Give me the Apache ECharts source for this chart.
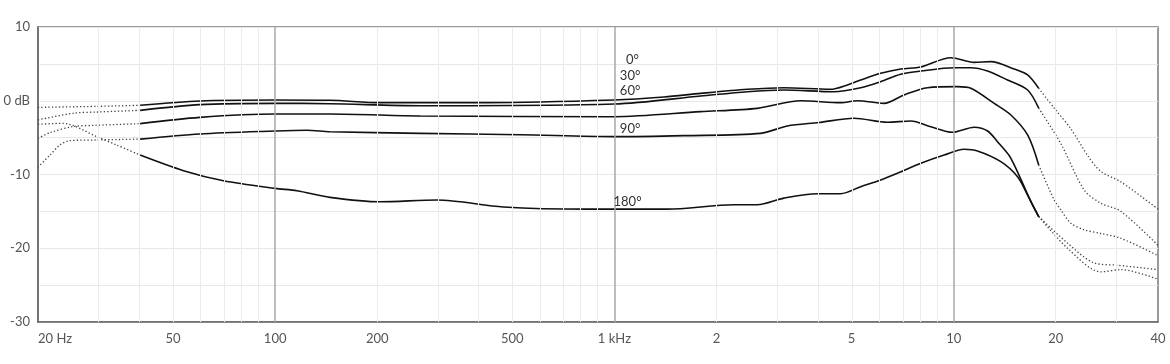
<!DOCTYPE html>
<html>
<head>
<meta charset="utf-8">
<script src="https://cdn.jsdelivr.net/npm/echarts@6/dist/echarts.min.js"></script>
<style>
  html, body { margin: 0; padding: 0; background: #fff; }
  #chart { width: 1170px; height: 364px; }
</style>
</head>
<body>
<div id="chart"></div>
<script>
// polar response: level (dB) over frequency (Hz), one pair of arrays per angle
const hz0 = [20, 30, 40, 60, 100, 145, 204, 421, 1000, 1400, 1795, 2465, 3159, 4339, 4860, 5318, 6092, 6978, 8000, 9800, 11485, 12870, 15070, 16510, 17800, 19770, 22140, 24800, 27160, 31100, 40000]
const db0 = [-0.9, -0.76, -0.62, -0.03, 0.1, 0.06, -0.26, -0.26, 0.1, 0.5, 1.0, 1.55, 1.77, 1.55, 2.14, 2.81, 3.72, 4.3, 4.58, 5.84, 5.2, 5.3, 4.3, 3.5, 1.69, -1.0, -3.8, -7.4, -9.6, -11.0, -14.7]

const hz30 = [20, 25.4, 29.8, 40, 60, 100, 145, 268, 1000, 1795, 2465, 3159, 4428, 5318, 6092, 6978, 8000, 10024, 11230, 12580, 14405, 16510, 17800, 20680, 24240, 27160, 31100, 40000]
const db30 = [-2.6, -1.7, -1.53, -1.3, -0.53, -0.35, -0.4, -0.67, -0.44, 0.64, 1.23, 1.46, 1.23, 1.77, 2.59, 3.59, 4.03, 4.48, 4.48, 4.03, 2.81, 1.46, -1.0, -5.8, -12.1, -13.9, -15.0, -19.6]

const hz60 = [20, 21.7, 25.4, 29.8, 40, 60, 100, 145, 268, 1000, 1795, 2637, 3538, 4643, 5200, 6230, 7136, 8366, 10257, 11230, 13160, 14740, 16510, 17800, 19770, 20680, 22140, 24240, 27160, 31100, 40000]
const db60 = [-5.1, -4.33, -3.5, -3.33, -3.1, -2.25, -1.8, -1.8, -2.07, -2.16, -1.48, -1.03, 0, -0.26, 0, -0.35, 0.78, 1.77, 1.91, 1.69, -0.35, -1.93, -4.64, -8.7, -13.46, -14.8, -16.6, -17.5, -18.0, -18.65, -21.0]

const hz90 = [20, 21.7, 23.2, 24.8, 29.8, 40, 60, 100, 124, 145, 268, 528, 1000, 1602, 2697, 3232, 4000, 5083, 6374, 7471, 8557, 9916, 11485, 12580, 13600, 14740, 16890, 17800, 21650, 25950, 30410, 40000]
const db90 = [-9.0, -7.36, -6.0, -5.41, -5.32, -5.2, -4.5, -4.1, -4.0, -4.2, -4.42, -4.6, -4.87, -4.73, -4.42, -3.42, -2.95, -2.38, -2.92, -2.75, -3.52, -4.28, -3.6, -4.1, -5.8, -7.8, -13.7, -15.7, -19.3, -22.0, -22.3, -22.9]

const hz180 = [20, 23.7, 29.8, 34.1, 40, 53.7, 70.4, 100, 116, 145, 204, 300, 471, 831, 1000, 1431, 2249, 2637, 3159, 3963, 4643, 5318, 6092, 6822, 8000, 9367, 10729, 11750, 13770, 15420, 16510, 17800, 21650, 27160, 31100, 40000]
const db180 = [-3.2, -3.06, -4.87, -6.0, -7.36, -9.48, -10.84, -11.88, -12.2, -13.1, -13.7, -13.46, -14.4, -14.7, -14.7, -14.7, -14.1, -14.1, -13.2, -12.6, -12.6, -11.65, -10.75, -9.84, -8.48, -7.36, -6.58, -6.8, -8.26, -10.3, -12.78, -15.7, -20.0, -23.2, -22.9, -24.2]

// measured (solid) range, outside of it the curves are dotted
const solidFrom = 40
const solidTo = 17800

// axis ticks
const xTickHz = [20, 50, 100, 200, 500, 1000, 2000, 5000, 10000, 20000, 40000]
const xTickText = ['20 Hz', '50', '100', '200', '500', '1 kHz', '2', '5', '10', '20', '40']
const minorGridHz = [30, 40, 50, 60, 70, 80, 90, 200, 300, 400, 500, 600, 700, 800, 900,
  2000, 3000, 4000, 5000, 6000, 7000, 8000, 9000, 20000, 30000]
const majorGridHz = [100, 1000, 10000]

// curve names and where their labels sit
const angleNames = ['0°', '30°', '60°', '90°', '180°']
const labelHz = [1130, 1112, 1112, 1112, 1093]
const labelDb = [5.53, 3.36, 1.39, -3.76, -13.73]

const curves = [[hz0, db0], [hz30, db30], [hz60, db60], [hz90, db90], [hz180, db180]]

const FONT = 'Lato, "Open Sans", sans-serif'

function pick(hz, db, test) {
  const out = []
  hz.forEach((f, i) => {
    if (test(f)) out.push([Math.log10(f), db[i]])
  })
  return out
}

const series = []

// vertical grid lines (log spaced)
series.push({
  type: 'line',
  data: [],
  silent: true,
  z: 1,
  markLine: {
    silent: true,
    symbol: ['none', 'none'],
    label: { show: false },
    animation: false,
    lineStyle: { color: '#ebebeb', width: 1, type: 'solid' },
    data: minorGridHz.map(f => ({ xAxis: Math.log10(f) })),
  },
})
series.push({
  type: 'line',
  data: [],
  silent: true,
  z: 1,
  markLine: {
    silent: true,
    symbol: ['none', 'none'],
    label: { show: false },
    animation: false,
    lineStyle: { color: '#a8a8a8', width: 1.5, type: 'solid' },
    data: majorGridHz.map(f => ({ xAxis: Math.log10(f) })),
  },
})

const dotted = {
  color: '#444',
  width: 1.3,
  type: [1.3, 2.2],
}

curves.forEach(([hz, db], i) => {
  series.push({
    name: angleNames[i] + ' low',
    type: 'line',
    data: pick(hz, db, f => f <= solidFrom),
    smooth: 0.3,
    showSymbol: false,
    z: 3,
    lineStyle: dotted,
  })
  series.push({
    name: angleNames[i] + ' high',
    type: 'line',
    data: pick(hz, db, f => f >= solidTo),
    smooth: 0.3,
    showSymbol: false,
    z: 3,
    lineStyle: dotted,
  })
  series.push({
    name: angleNames[i],
    type: 'line',
    data: pick(hz, db, f => f >= solidFrom && f <= solidTo),
    smooth: 0.3,
    showSymbol: false,
    z: 4,
    lineStyle: { color: '#111', width: 1.6 },
    markPoint: {
      symbol: 'circle',
      symbolSize: 0,
      silent: true,
      animation: false,
      label: {
        show: true,
        position: 'inside',
        formatter: angleNames[i],
        color: '#333',
        fontSize: 13,
        fontFamily: FONT,
      },
      data: [{ coord: [Math.log10(labelHz[i]), labelDb[i]] }],
    },
  })
})

const chart = echarts.init(document.getElementById('chart'), null, { renderer: 'canvas' })

chart.setOption({
  animation: false,
  backgroundColor: '#fff',
  grid: {
    left: 38,
    right: 12,
    top: 27,
    bottom: 42,
    show: true,
    borderColor: '#7a7a7a',
    borderWidth: 1.5,
  },
  xAxis: {
    type: 'value',
    min: Math.log10(xTickHz[0]),
    max: Math.log10(xTickHz[xTickHz.length - 1]),
    axisLine: { show: true, onZero: false, lineStyle: { color: '#666', width: 1.5 } },
    axisTick: { show: false },
    splitLine: { show: false },
    axisLabel: {
      customValues: xTickHz.map(f => Math.log10(f)),
      alignMinLabel: 'left',
      margin: 10,
      color: '#555',
      fontSize: 13,
      fontFamily: FONT,
      formatter: (v) => {
        const idx = xTickHz.findIndex(f => Math.abs(Math.log10(f) - v) < 1e-6)
        return idx >= 0 ? xTickText[idx] : ''
      },
    },
  },
  yAxis: {
    type: 'value',
    min: -30,
    max: 10,
    interval: 5,
    axisLine: { show: true, onZero: false, lineStyle: { color: '#666', width: 1.5 } },
    axisTick: { show: false },
    axisLabel: {
      margin: 8,
      color: '#555',
      fontSize: 13,
      fontFamily: FONT,
      formatter: (v) => {
        if (v % 10 !== 0) return ''
        return v === 0 ? '0 dB' : String(v)
      },
    },
    splitLine: { lineStyle: { color: '#e8e8e8', width: 1 } },
  },
  series: series,
})
</script>
</body>
</html>
